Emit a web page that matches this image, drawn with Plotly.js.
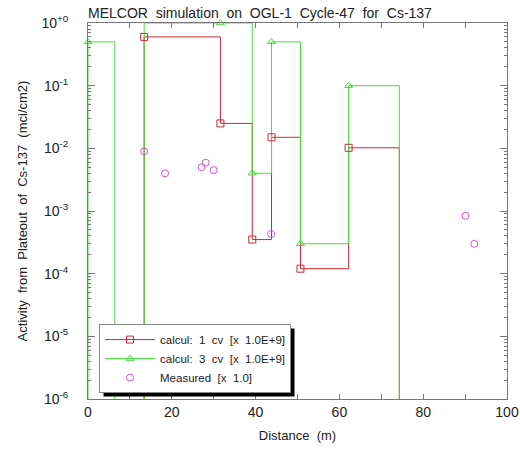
<!DOCTYPE html>
<html>
<head>
<meta charset="utf-8">
<script src="https://cdn.plot.ly/plotly-3.0.1.min.js"></script>
<style>html,body{margin:0;padding:0;background:#fff;}#chart{width:520px;height:456px;}</style>
</head>
<body>
<div id="chart"></div>
<script>
// Step series "calcul: 1 cv" (values below 1e-6 lie under the axis range)
const oneCvX = [0, 13.4, 31.6, 39.2, 43.8, 50.7, 62.2, 74.3];
const oneCvY = [1e-9, 0.6, 0.025, 3.5e-4, 0.015, 1.2e-4, 0.0102, 1e-9];
const oneCvMarkIdx = [1, 2, 3, 4, 5, 6];

// Step series "calcul: 3 cv"
const threeCvX = [0, 0, 6.4, 13.4, 31.6, 39.2, 43.8, 50.7, 62.2, 74.3];
const threeCvY = [1e-9, 0.5, 1e-9, 1.0, 1.0, 0.004, 0.5, 3.0e-4, 0.1, 1e-9];
const threeCvMarkIdx = [1, 4, 5, 6, 7, 8];

// Measured points
const measX = [13.4, 18.4, 27.1, 28.1, 30.0, 43.7, 90.1, 92.2];
const measY = [0.0089, 0.0040, 0.0050, 0.0059, 0.0045, 4.3e-4, 8.4e-4, 3.0e-4];

const seriesNames = ['calcul:  1  cv  [x  1.0E+9]', 'calcul:  3  cv  [x  1.0E+9]', 'Measured  [x  1.0]'];
const yTickVals = [1e-6, 1e-5, 1e-4, 1e-3, 1e-2, 1e-1, 1];
const yTickText = ['10<sup>-6</sup>', '10<sup>-5</sup>', '10<sup>-4</sup>', '10<sup>-3</sup>', '10<sup>-2</sup>', '10<sup>-1</sup>', '10<sup>+0</sup>'];

const RED = '#cc2a33';
const GREEN = '#44dd3a';
const MAG = '#cc55d6';

const pick = (arr, idx) => idx.map(i => arr[i]);

const minorVals = [];
for (let e = -6; e < 0; e++) for (let m = 2; m <= 9; m++) minorVals.push(m * Math.pow(10, e));

const traces = [
  {x: oneCvX, y: oneCvY, mode: 'lines', line: {shape: 'hv', color: RED, width: 1}, showlegend: false, hoverinfo: 'skip'},
  {x: threeCvX, y: threeCvY, mode: 'lines', line: {shape: 'hv', color: GREEN, width: 1}, showlegend: false, hoverinfo: 'skip'},
  {x: pick(oneCvX, oneCvMarkIdx), y: pick(oneCvY, oneCvMarkIdx), mode: 'markers', cliponaxis: false,
   marker: {symbol: 'square-open', size: 7, color: RED, line: {width: 1}}, showlegend: false},
  {x: pick(threeCvX, threeCvMarkIdx), y: pick(threeCvY, threeCvMarkIdx), mode: 'markers', cliponaxis: false,
   marker: {symbol: 'triangle-up-open', size: 7, color: GREEN, line: {width: 1}}, showlegend: false},
  {x: measX, y: measY, mode: 'markers', name: seriesNames[2], legendrank: 3,
   marker: {symbol: 'circle-open', size: 7, color: MAG, line: {width: 1}}},
  {x: [null], y: [null], mode: 'lines+markers', name: seriesNames[0], legendrank: 1,
   line: {color: RED, width: 1}, marker: {symbol: 'square-open', size: 7, color: RED, line: {width: 1}}},
  {x: [null], y: [null], mode: 'lines+markers', name: seriesNames[1], legendrank: 2,
   line: {color: GREEN, width: 1}, marker: {symbol: 'triangle-up-open', size: 7, color: GREEN, line: {width: 1}}}
];

const axisCol = '#777';
const txtCol = '#222';
const FONT = 'Liberation Sans, Arial, sans-serif';

const layout = {
  width: 520, height: 456,
  margin: {l: 88, r: 13, t: 23, b: 57},
  paper_bgcolor: '#fff', plot_bgcolor: '#fff',
  font: {family: FONT, color: txtCol, size: 12},
  title: {text: 'MELCOR  simulation  on  OGL-1  Cycle-47  for  Cs-137', x: 88/520, xref: 'container', xanchor: 'left',
          y: 1 - 13/456, yref: 'container', yanchor: 'middle', font: {family: FONT, size: 14, color: txtCol}},
  xaxis: {type: 'linear', range: [0, 100], tickmode: 'linear', tick0: 0, dtick: 20,
          ticks: 'inside', ticklen: 5, tickcolor: axisCol, showline: true, linecolor: axisCol, linewidth: 1,
          mirror: 'allticks', showgrid: false, zeroline: false, ticklabeloverflow: 'allow',
          minor: {ticks: 'inside', ticklen: 5, tickcolor: axisCol, dtick: 10, tick0: 0},
          tickfont: {family: FONT, size: 14, color: txtCol},
          title: {text: 'Distance  (m)', font: {family: FONT, size: 13, color: txtCol}, standoff: 12}},
  yaxis: {type: 'log', range: [-6, 0], tickmode: 'array', tickvals: yTickVals, ticktext: yTickText,
          ticks: 'inside', ticklen: 7, tickcolor: axisCol, showline: true, linecolor: axisCol, linewidth: 1,
          mirror: 'allticks', showgrid: false, zeroline: false, ticklabelstandoff: 16,
          minor: {ticks: 'inside', ticklen: 3, tickcolor: axisCol, tickmode: 'array', tickvals: minorVals},
          tickfont: {family: FONT, size: 14, color: txtCol},
          title: {text: 'Activity  from  Plateout  of  Cs-137  (mci/cm2)', font: {family: FONT, size: 13, color: txtCol}, standoff: 10}},
  legend: {x: 0.0263, y: 0.1993, xanchor: 'left', yanchor: 'top', bgcolor: '#fff', bordercolor: '#888', borderwidth: 1,
           font: {family: FONT, size: 11.5, color: txtCol}, traceorder: 'normal', itemwidth: 50},
  showlegend: true
};

const gd = document.getElementById('chart');
Plotly.newPlot(gd, traces, layout, {staticPlot: true, displayModeBar: false}).then(() => {
  // drop shadow behind the legend box (offset 4 px right/down)
  const bg = gd.querySelector('.legend .bg');
  if (!bg) return;
  const r = bg.getBoundingClientRect();
  const g = gd.getBoundingClientRect();
  const fl = gd._fullLayout;
  const px2x = px => (px - g.left - fl._size.l) / fl._size.w;
  const px2y = py => 1 - (py - g.top - fl._size.t) / fl._size.h;
  return Plotly.relayout(gd, {shapes: [{type: 'rect', xref: 'paper', yref: 'paper',
    x0: px2x(r.left + 4), x1: px2x(r.right + 4), y0: px2y(r.bottom + 4), y1: px2y(r.top + 4),
    fillcolor: '#000', line: {width: 0}, layer: 'above'}]});
});
</script>
</body>
</html>
